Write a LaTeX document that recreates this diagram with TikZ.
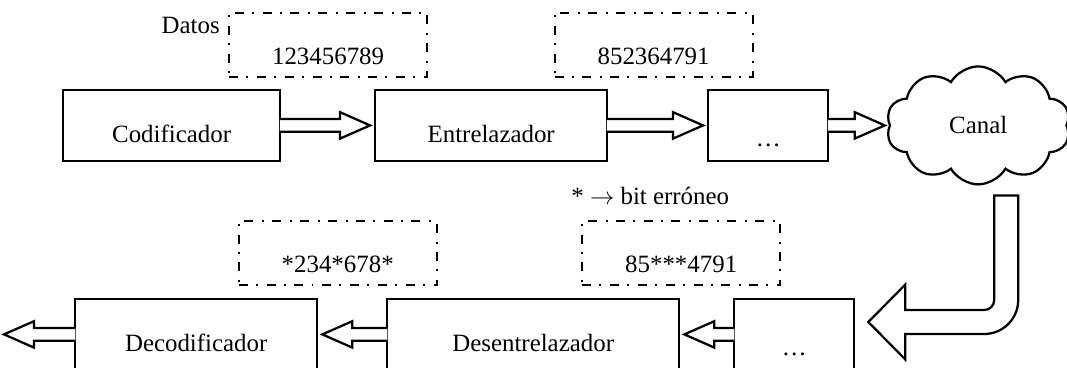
\documentclass[tikz,border=0pt]{standalone}
\usepackage{fontspec}
\setmainfont{Liberation Serif}
\usetikzlibrary{positioning,calc,shapes.symbols}

% hollow block arrow from one anchor towards another
\newcommand{\fatarrow}[2]{%
  \draw[fill=white, line width=1.6pt]
    let \p1=(#1), \p2=(#2), \n1={sign(\x2-\x1)} in
    ({\x1-\n1*1pt}, \y1+0.16cm) -- ({\x2-\n1*0.85cm}, \y1+0.16cm)
    -- ({\x2-\n1*0.85cm}, \y1+0.33cm) -- ({\x2-\n1*0.1cm}, \y1)
    -- ({\x2-\n1*0.85cm}, \y1-0.33cm) -- ({\x2-\n1*0.85cm}, \y1-0.16cm)
    -- ({\x1-\n1*1pt}, \y1-0.16cm);
}

\begin{document}
\begin{tikzpicture}[node distance=2cm, on grid,
    font=\fontsize{17.7}{21}\selectfont,
    blk/.style={draw, line width=1.6pt, minimum height=1.775cm,
      text height=0.85cm, text depth=0pt},
    dots/.style={blk, minimum width=3cm, text height=1.05cm},
    data/.style={draw, line width=1.5pt,
      dash pattern=on 6.4pt off 5.8pt on 1.4pt off 6.2pt,
      minimum width=4.95cm, minimum height=1.6cm,
      text height=0.97cm, text depth=0pt}]
  \useasboundingbox (0,0) rectangle (26.675,9.175);

  % emisor
  \node[blk, minimum width=5.425cm] (cod) at (4.29,6.04) {Codificador};
  \node[blk, minimum width=5.8cm] (ent) [right=7.99cm of cod] {Entrelazador};
  \node[dots] (dots1) [right=6.925cm of ent] {…};
  \node[cloud, draw, line width=1.6pt, cloud puffs=10, cloud puff arc=120,
    aspect=1.6, minimum width=4.6cm, minimum height=2.95cm, inner sep=0pt]
    (canal) [right=5.25cm of dots1] {Canal};

  \node[data] (seq1) [above right=2.0125cm and 3.9125cm of cod] {123456789};
  \node[data] (seq2) [right=8.1375cm of seq1] {852364791};
  \node[anchor=base east, inner sep=0pt] (datos) at (5.5,8.325) {Datos};

  % receptor
  \node[dots] (dots2) [below right=5.225cm and 0.65cm of dots1] {…};
  \node[blk, minimum width=7.3cm] (desent) [left=6.525cm of dots2] {Desentrelazador};
  \node[blk, minimum width=6.05cm] (dec) [left=8.425cm of desent] {Decodificador};
  \coordinate (out) [left=1.725cm of dec.west];

  \node[data] (seq3) [above right=2.025cm and 3.7cm of desent] {85***4791};
  \node[data] (seq4) [left=8.5875cm of seq3] {*234*678*};
  \node (nota) [above left=1.4375cm and 0.775cm of seq3] {* $\rightarrow$ bit erróneo};

  \fatarrow{cod.east}{ent.west}
  \fatarrow{ent.east}{dots1.west}
  \fatarrow{dots1.east}{canal.west}
  \fatarrow{dots2.west}{desent.east}
  \fatarrow{desent.west}{dec.east}
  \fatarrow{dec.west}{out}

  % bajada del canal
  \draw[fill=white, line width=1.6pt]
    let \p1=(canal.south), \p2=(dots2.east) in
    (\x1+0.4cm, \y1-0.25cm) -- (\x1+1cm, \y1-0.25cm)
    -- (\x1+1cm, \y2+0.86cm) arc[start angle=0, end angle=-90, radius=0.85cm]
    -- (\x2+1.25cm, \y2+0.01cm) -- (\x2+1.25cm, \y2-0.6275cm)
    -- (\x2+0.325cm, \y2+0.31cm) -- (\x2+1.25cm, \y2+1.2475cm)
    -- (\x2+1.25cm, \y2+0.61cm) -- (\x1+0.15cm, \y2+0.61cm)
    arc[start angle=-90, end angle=0, radius=0.25cm] -- cycle;
\end{tikzpicture}
\end{document}
